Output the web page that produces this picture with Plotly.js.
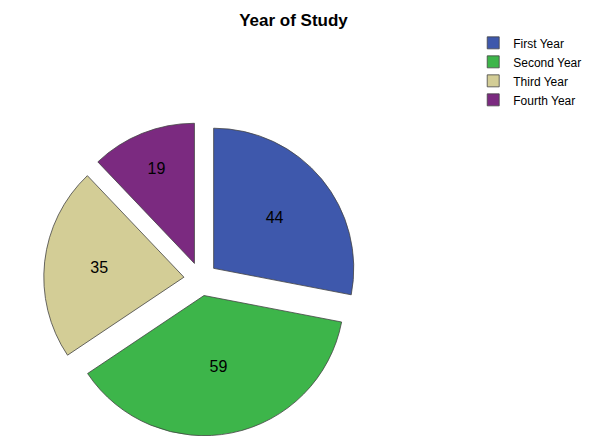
<!DOCTYPE html>
<html>
<head>
<meta charset="utf-8">
<script src="https://cdn.plot.ly/plotly-3.0.1.min.js"></script>
<style>html,body{margin:0;padding:0;background:#fff;}#chart{width:599px;height:436px;}</style>
</head>
<body>
<div id="chart"></div>
<script>
const categories = ["First Year", "Second Year", "Third Year", "Fourth Year"];
const counts = [44, 59, 35, 19];
const colors = ["#3e58ac", "#3db54a", "#d3cd96", "#7b2a80"];

const trace = {
  type: "pie",
  labels: categories,
  values: counts,
  sort: false,
  direction: "clockwise",
  rotation: 0,
  pull: [0.12, 0.12, 0.12, 0.12],
  marker: { colors: colors, line: { color: "#444444", width: 0.8 } },
  textinfo: "value",
  textposition: "inside",
  insidetextorientation: "horizontal",
  textfont: { family: "Arial, Liberation Sans, sans-serif", size: 16, color: "#000000" },
  domain: { x: [0.0, 0.67], y: [0.0, 0.72] },
  hoverinfo: "label+value"
};

const layout = {
  width: 599,
  height: 436,
  margin: { l: 0, r: 0, t: 0, b: 0 },
  paper_bgcolor: "#ffffff",
  title: {
    text: "<b>Year of Study</b>",
    font: { family: "Arial, Liberation Sans, sans-serif", size: 17, color: "#000000" },
    x: 0.49, xanchor: "center", y: 0.955, yanchor: "middle"
  },
  showlegend: true,
  legend: {
    x: 0.79, y: 0.935, xanchor: "left", yanchor: "top",
    font: { family: "Arial, Liberation Sans, sans-serif", size: 12, color: "#000000" },
    tracegroupgap: 0, itemwidth: 30,
    bgcolor: "rgba(0,0,0,0)"
  }
};

Plotly.newPlot("chart", [trace], layout, { displayModeBar: false, staticPlot: true });
</script>
</body>
</html>
